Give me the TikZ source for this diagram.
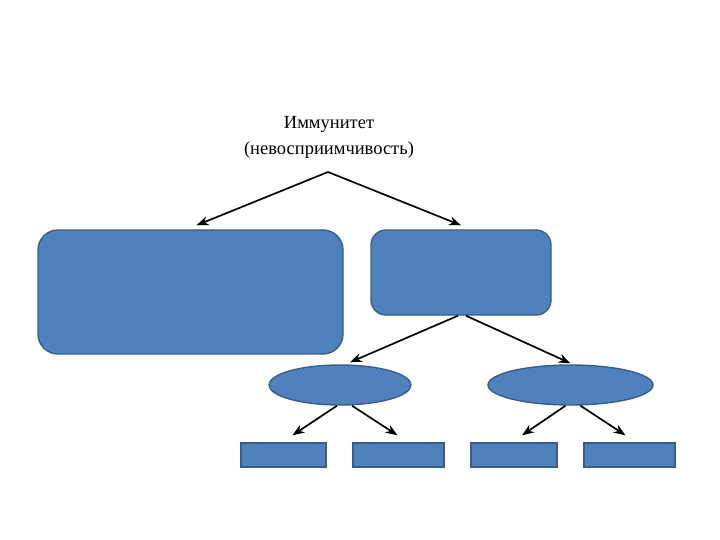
\documentclass[tikz,border=0pt]{standalone}
\usepackage{fontspec}
\setmainfont{Liberation Serif}
\usetikzlibrary{shapes.geometric,arrows.meta}

\definecolor{boxfill}{HTML}{4F81BD}
\definecolor{boxline}{HTML}{385D8A}

\begin{document}
\begin{tikzpicture}[x=1pt,y=-1pt,>={Stealth[length=12pt,width=9pt]},
    line width=1.7pt,
    bigbox/.style={draw=boxline,line width=1.4pt,fill=boxfill,rounded corners=#1,
      inner sep=0pt},
    oval/.style={ellipse,draw=boxline,line width=1.4pt,fill=boxfill,inner sep=0pt},
    leaf/.style={draw=boxline,line width=1.4pt,fill=boxfill,inner sep=0pt,
      minimum height=24pt}]
  \useasboundingbox (0,0) rectangle (720,540);
  \node[align=center,font=\fontsize{18.5}{26}\selectfont] (imm) at (329,137)
    {Иммунитет\\(невосприимчивость)};
  \coordinate (apex) at (328,172);
  \node[bigbox=20pt,minimum width=305pt,minimum height=124pt] (left) at (190.5,292) {};
  \node[bigbox=15pt,minimum width=180pt,minimum height=85pt] (right) at (461,272.5) {};
  \node[oval,minimum width=142pt,minimum height=40pt] (ovA) at (340,385) {};
  \node[oval,minimum width=165pt,minimum height=40pt] (ovB) at (570.5,385) {};
  \node[leaf,minimum width=85pt] (lfA) at (283.5,455) {};
  \node[leaf,minimum width=91pt] (lfB) at (398.5,455) {};
  \node[leaf,minimum width=86pt] (lfC) at (514,455) {};
  \node[leaf,minimum width=91pt] (lfD) at (629.5,455) {};
  \path[->]
    (apex) edge ([xshift=6pt,yshift=4pt]left.north)
    (apex) edge ([yshift=4pt]right.north)
    ([xshift=-3pt]right.south) edge ([xshift=10pt,yshift=2pt]ovA.north)
    ([xshift=5pt]right.south) edge ([yshift=1pt]ovB.north)
    ([xshift=-3pt]ovA.south) edge ([xshift=9pt,yshift=7pt]lfA.north)
    ([xshift=12pt]ovA.south) edge ([xshift=-1pt,yshift=7pt]lfB.north)
    ([xshift=-5pt]ovB.south) edge ([xshift=8pt,yshift=7pt]lfC.north)
    ([xshift=10pt]ovB.south) edge ([xshift=-4pt,yshift=7pt]lfD.north);
\end{tikzpicture}
\end{document}
